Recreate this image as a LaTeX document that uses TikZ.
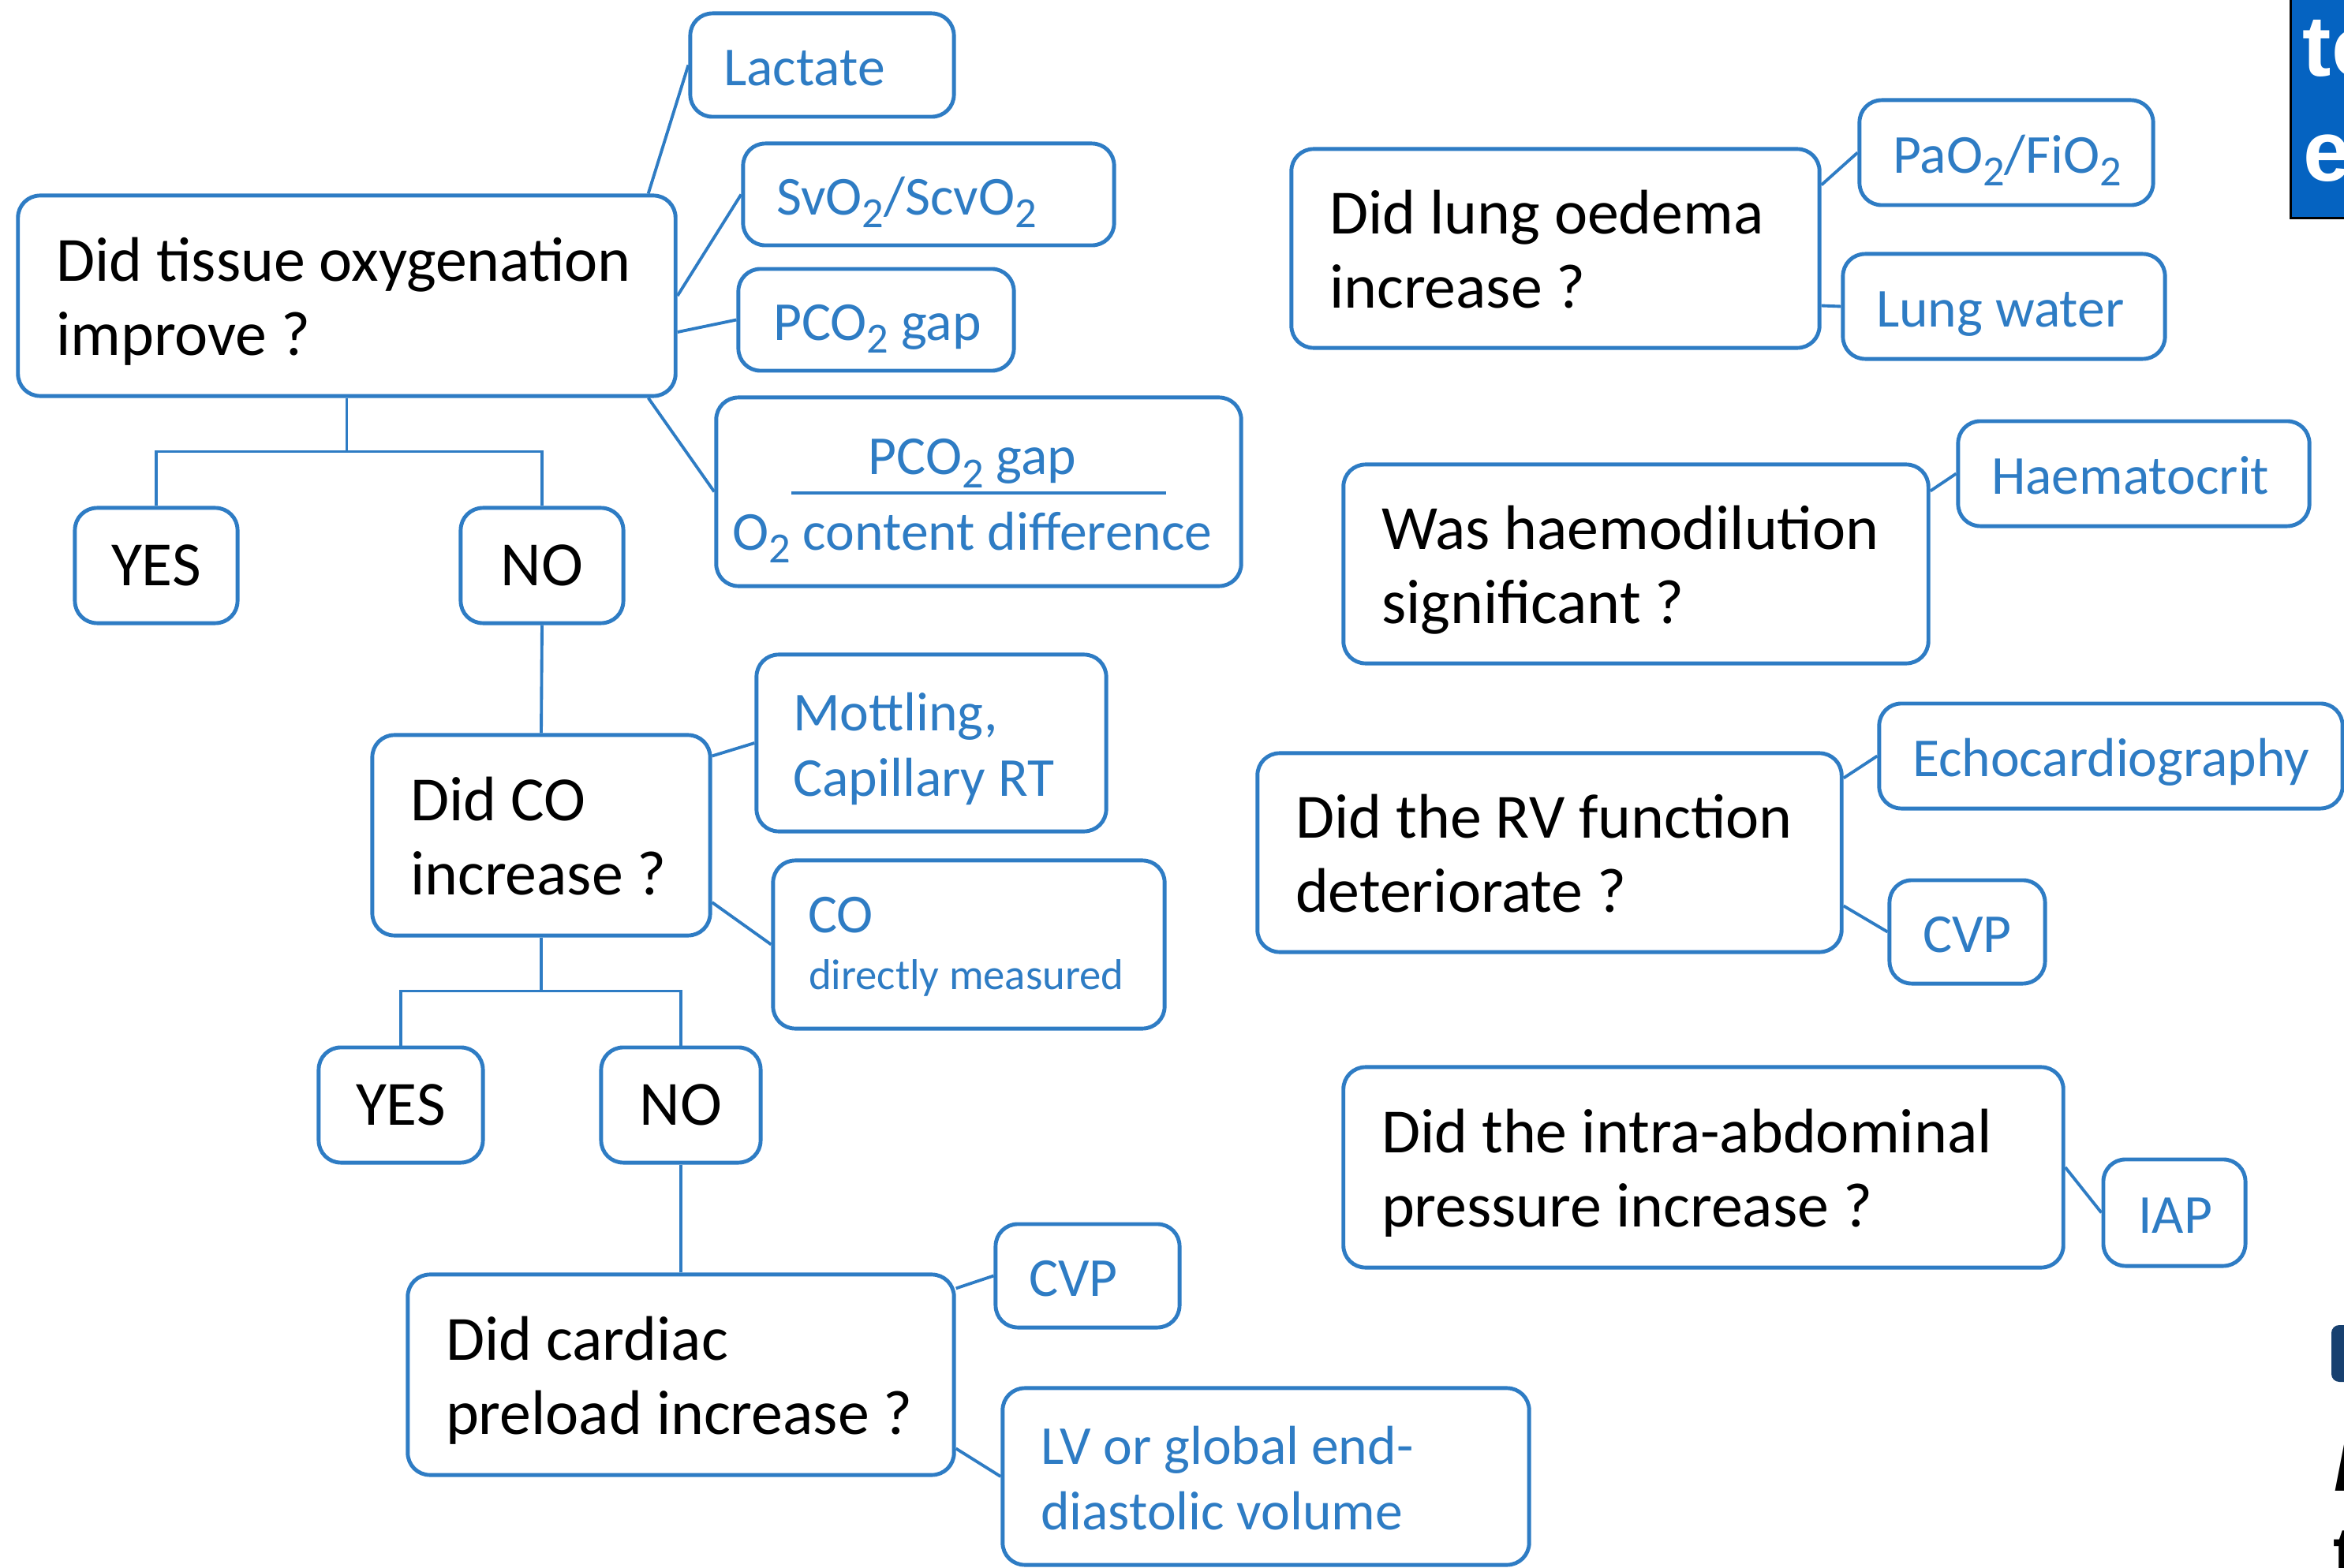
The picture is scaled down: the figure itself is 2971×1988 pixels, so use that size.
\documentclass[tikz,border=0pt]{standalone}
\usepackage{fontspec}
\setmainfont{Carlito}
\newfontfamily\artfont{Liberation Sans}
\usetikzlibrary{calc}
\definecolor{bl}{HTML}{2E7CC4}
\definecolor{artblue}{HTML}{0563C1}
\definecolor{navy}{HTML}{17406F}
\newcommand{\qf}{\fontsize{22.7}{26.9}\selectfont}
\newcommand{\blf}{\fontsize{19.8}{23.6}\selectfont}
\newcommand{\smf}{\fontsize{15.55}{18.5}\selectfont}
\newcommand{\sbt}[1]{\raisebox{-0.16cm}{\fontsize{15.5}{15.5}\selectfont #1}}
\tikzset{
  box/.style={draw=bl, line width=1.4pt, rounded corners=0.28cm, fill=white, inner sep=0pt},
  ynbox/.style={box, minimum height=1.46cm, font=\qf, text=black},
  qtext/.style={anchor=west, align=left, inner sep=0pt, font=\qf, text=black, yshift=-0.15cm,
    execute at begin node=\strut, execute at end node=\strut},
  btext/.style={anchor=west, align=left, inner sep=0pt, font=\blf, text=bl, yshift=-0.09cm,
    execute at begin node=\strut, execute at end node=\strut},
  conn/.style={draw=bl, line width=1.1pt},
}
\begin{document}
\begin{tikzpicture}[x=0.01cm,y=-0.01cm]
\useasboundingbox (0,0) rectangle (2971,1988);
\fill[white] (0,0) rectangle (2971,1988);

% ---------- left tree ----------
\node[box, minimum width=8.33cm, minimum height=2.54cm] (tissue) at (439.5,375) {};
\node[qtext] at ([xshift=0.50cm]tissue.west) {Did tissue oxygenation\\improve ?};

\node[box, minimum width=3.34cm, minimum height=1.31cm] (lac) at (1042,82.5) {};
\node[btext] at ([xshift=0.44cm]lac.west) {Lactate};
\node[box, minimum width=4.70cm, minimum height=1.29cm] (svo) at (1177,246.5) {};
\node[btext] at ([xshift=0.44cm]svo.west) {SvO\sbt{2}/ScvO\sbt{2}};
\node[box, minimum width=3.49cm, minimum height=1.29cm] (pco) at (1110.5,405.5) {};
\node[btext] at ([xshift=0.46cm]pco.west) {PCO\sbt{2} gap};
\node[box, minimum width=6.65cm, minimum height=2.39cm] (ratio) at (1240.5,623.5) {};
\node[anchor=base, inner sep=0pt, font=\blf, text=bl] (ratnum) at ([xshift=-0.08cm,yshift=0.215cm]ratio.center) {PCO\sbt{2} gap};
\node[anchor=base, inner sep=0pt, font=\blf, text=bl] (ratden) at ([xshift=-0.08cm,yshift=-0.735cm]ratio.center) {O\sbt{2} content difference};
\draw[draw=bl, line width=1.4pt] ([xshift=-2.37cm,yshift=-0.015cm]ratio.center) -- ([xshift=2.37cm,yshift=-0.015cm]ratio.center);

\draw[conn] ([xshift=-0.37cm]tissue.north east) -- (lac.west);
\draw[conn] (tissue.east) -- (svo.west);
\draw[conn] ([yshift=-0.46cm]tissue.east) -- (pco.west);
\draw[conn] ([xshift=-0.37cm]tissue.south east) -- (ratio.west);

\node[ynbox, minimum width=2.06cm] (yes1) at (198,717) {YES};
\node[ynbox, minimum width=2.06cm] (no1) at (687,717) {NO};
\coordinate (j1) at ($(tissue.south)+(0,68)$);
\draw[conn] (tissue.south) -- (j1);
\draw[conn] (yes1.north) |- (j1) -| (no1.north);

\node[box, minimum width=4.28cm, minimum height=2.54cm] (co) at (686,1059) {};
\node[qtext] at ([xshift=0.50cm]co.west) {Did CO\\increase ?};
\draw[conn] (no1.south) -- (co.north);

\node[box, minimum width=4.43cm, minimum height=2.24cm] (mot) at (1180.5,942) {};
\node[btext, yshift=-0.05cm] at ([xshift=0.48cm]mot.west) {Mottling,\\Capillary RT};
\node[box, minimum width=4.96cm, minimum height=2.13cm] (codir) at (1228,1197.5) {};
\node[anchor=base west, inner sep=0pt, font=\blf, text=bl] (cotxt) at ([xshift=0.46cm,yshift=0.145cm]codir.west) {CO};
\node[anchor=base west, inner sep=0pt, font=\smf, text=bl] (dmtxt) at ([xshift=0.47cm,yshift=-0.565cm]codir.west) {directly measured};
\draw[conn] ([yshift=-0.29cm]co.north east) -- (mot.west);
\draw[conn] ([yshift=-0.85cm]co.east) -- (codir.west);

\node[ynbox, minimum width=2.08cm] (yes2) at (508,1401) {YES};
\node[ynbox, minimum width=2.02cm] (no2) at (863,1401) {NO};
\coordinate (j2) at ($(co.south)+(0,68)$);
\draw[conn] (co.south) -- (j2);
\draw[conn] (yes2.north) |- (j2) -| (no2.north);

\node[box, minimum width=6.92cm, minimum height=2.54cm] (pre) at (863,1743) {};
\node[qtext] at ([xshift=0.50cm]pre.west) {Did cardiac\\preload increase ?};
\draw[conn] (no2.south) -- (pre.north);

\node[box, minimum width=2.33cm, minimum height=1.31cm] (cvpa) at (1378.5,1617.5) {};
\node[btext] at ([xshift=0.44cm]cvpa.west) {CVP};
\node[box, minimum width=6.67cm, minimum height=2.24cm] (lv) at (1604.5,1872) {};
\node[btext, yshift=-0.05cm] at ([xshift=0.50cm]lv.west) {LV or global end-\\diastolic volume};
\draw[conn] ([yshift=-0.2cm]pre.north east) -- (cvpa.west);
\draw[conn] ([yshift=0.36cm]pre.south east) -- (lv.west);

% ---------- right column ----------
\node[box, minimum width=6.69cm, minimum height=2.52cm] (lung) at (1971.5,315) {};
\node[qtext] at ([xshift=0.50cm]lung.west) {Did lung oedema\\increase ?};
\node[box, minimum width=3.72cm, minimum height=1.33cm] (pao) at (2543,193.5) {};
\node[btext] at ([xshift=0.44cm]pao.west) {PaO\sbt{2}/FiO\sbt{2}};
\node[box, minimum width=4.08cm, minimum height=1.33cm] (lw) at (2540,388.5) {};
\node[btext] at ([xshift=0.44cm]lw.west) {Lung water};
\draw[conn] ([yshift=-0.48cm]lung.north east) -- (pao.west);
\draw[conn] ([yshift=0.56cm]lung.south east) -- (lw.west);

\node[box, minimum width=7.41cm, minimum height=2.52cm] (haem) at (2073.5,715) {};
\node[qtext] at ([xshift=0.50cm]haem.west) {Was haemodilution\\significant ?};
\node[box, minimum width=4.45cm, minimum height=1.33cm] (hct) at (2704.5,600.5) {};
\node[btext] at ([xshift=0.44cm]hct.west) {Haematocrit};
\draw[conn] ([yshift=-0.36cm]haem.north east) -- (hct.west);

\node[box, minimum width=7.40cm, minimum height=2.52cm] (rv) at (1964,1081) {};
\node[qtext] at ([xshift=0.50cm]rv.west) {Did the RV function\\deteriorate ?};
\node[box, minimum width=5.87cm, minimum height=1.33cm] (echo) at (2675.5,958.5) {};
\node[btext] at ([xshift=0.44cm]echo.west) {Echocardiography};
\node[box, minimum width=1.97cm, minimum height=1.31cm] (cvpb) at (2493.5,1181.5) {};
\node[btext] at ([xshift=0.44cm]cvpb.west) {CVP};
\draw[conn] ([yshift=-0.34cm]rv.north east) -- (echo.west);
\draw[conn] ([yshift=0.61cm]rv.south east) -- (cvpb.west);

\node[box, minimum width=9.12cm, minimum height=2.54cm] (iapq) at (2159,1480) {};
\node[qtext] at ([xshift=0.50cm]iapq.west) {Did the intra-abdominal\\pressure increase ?};
\node[box, minimum width=1.80cm, minimum height=1.35cm] (iap) at (2756,1537.5) {};
\node[btext] at ([xshift=0.46cm]iap.west) {IAP};
\draw[conn] (iapq.east) -- (iap.west);

% ---------- cropped neighbours at the right edge ----------
\begin{scope}
\clip (0,0) rectangle (2971,1988);
\fill[artblue] (2903,-5) rectangle (2990,277);
\draw[black, line width=0.9pt] (2903.5,-5) -- (2903.5,276.5) -- (2990,276.5);
\node[anchor=base west, inner sep=0pt, text=white, font=\artfont\bfseries\fontsize{31}{31}\selectfont] (arttop) at (2918,97) {te};
\node[anchor=base west, inner sep=0pt, text=white, font=\artfont\bfseries\fontsize{31}{31}\selectfont] (artbot) at (2919,230) {e};
\fill[navy, rounded corners=0.1cm] (2955,1680) rectangle (2995,1752);
\node[anchor=base west, inner sep=0pt, text=black, font=\artfont\bfseries\itshape\fontsize{26}{26}\selectfont] (arti) at (2958,1890) {I};
\node[anchor=base west, inner sep=0pt, text=black, font=\artfont\bfseries\fontsize{26}{26}\selectfont] (artt) at (2957,2000) {t};
\end{scope}
\end{tikzpicture}
\end{document}
